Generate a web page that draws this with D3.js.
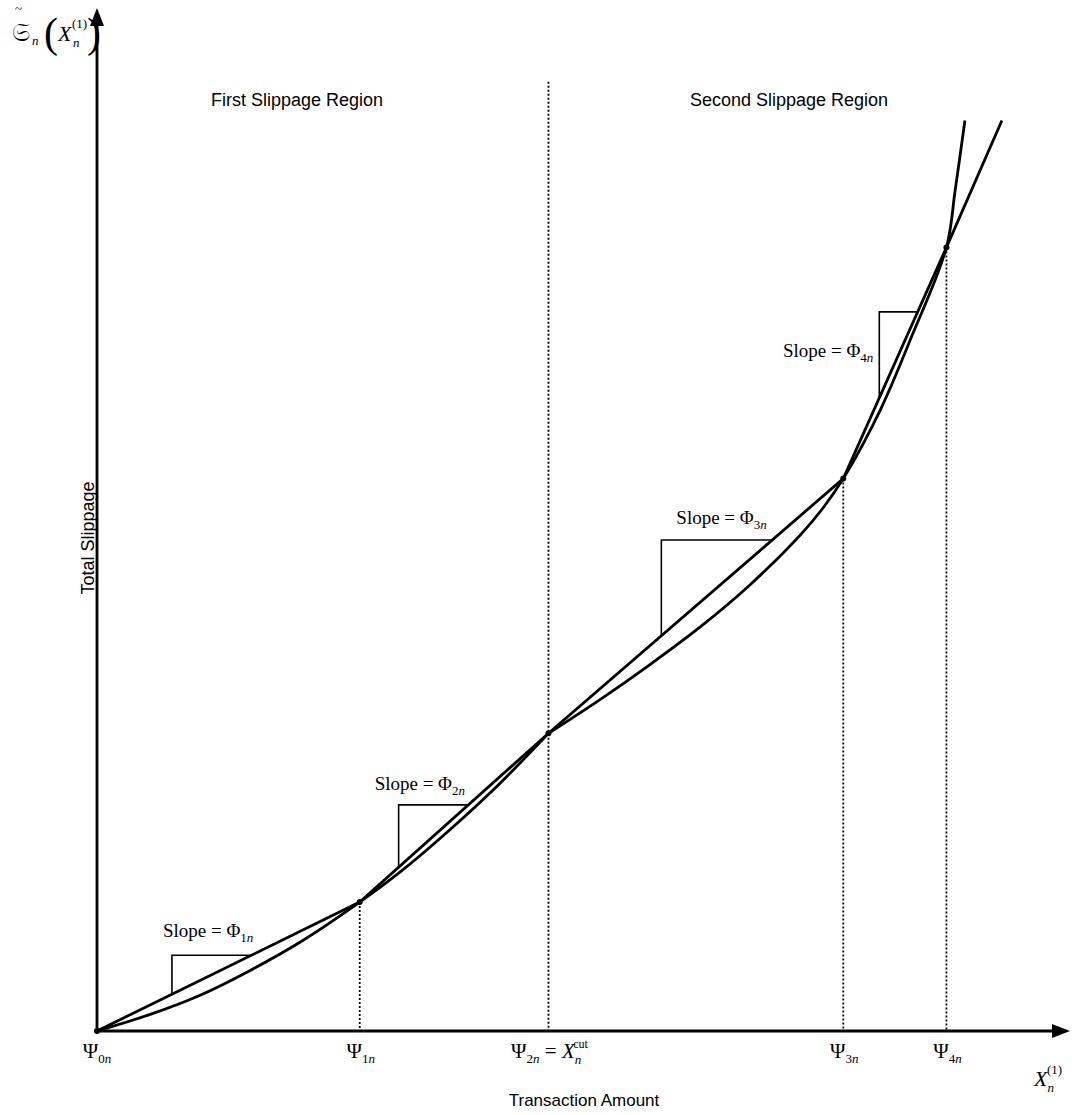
<!DOCTYPE html>
<html lang="en">
<head>
<meta charset="utf-8">
<title>Total Slippage</title>
<script src="https://d3js.org/d3.v7.min.js"></script>
<style>
 body { margin: 0; background: #fff; }
 .sans { font-family: "Liberation Sans", Arial, sans-serif; font-size: 17px; }
 .serif { font-family: "Liberation Serif", "Times New Roman", serif; }
</style>
</head>
<body>
<script>
// knots of the piecewise linear approximation
const knotX = [0, 27.0, 46.4, 76.7, 87.3];
const knotY = [0, 12.6, 29.1, 54.0, 76.6];
const knotSub = ['0', '1', '2', '3', '4'];

// chord line continues past the last knot
const chordX = [0, 27.0, 46.4, 76.7, 87.3, 93.0];
const chordY = [0, 12.6, 29.1, 54.0, 76.6, 89.0];

// true slippage curve, first and second region
const curve1X = [0, 5.4, 10.6, 15.7, 20.9, 27.0, 31.1, 36.3, 41.4, 46.4];
const curve1Y = [0, 1.6, 3.5, 5.9, 8.7, 12.6, 15.5, 19.7, 24.2, 29.1];
const curve2X = [46.4, 51.7, 56.8, 62.0, 67.1, 72.3, 74.6, 76.7, 80.5, 83.6, 87.3, 88.2, 89.2];
const curve2Y = [29.1, 32.4, 35.8, 39.5, 43.6, 48.5, 51.1, 54.0, 60.7, 67.6, 76.6, 82.2, 89.0];

// slope triangles: x of the vertical leg, y of the horizontal leg
const triX = [7.7, 31.0, 58.0, 80.4];
const triTop = [7.4, 22.1, 48.0, 70.3];
const slopeSub = ['1', '2', '3', '4'];

const regions = ['First Slippage Region', 'Second Slippage Region'];
const dividerTop = 92.8;

const width = 1072, height = 1115;

const x = d3.scaleLinear().domain([0, 100]).range([97, 1070]);
const y = d3.scaleLinear().domain([0, 100]).range([1031, 8]);

const svg = d3.select('body').append('svg')
  .attr('width', width)
  .attr('height', height);

svg.append('rect').attr('width', width).attr('height', height).attr('fill', '#fff');

//Dotted verticals
knotX.forEach(function (k, i) {
  if (i === 0) return;
  svg.append('line')
    .attr('x1', x(k)).attr('x2', x(k))
    .attr('y1', i === 2 ? y(dividerTop) : y(knotY[i]))
    .attr('y2', y(0))
    .attr('stroke', '#000')
    .attr('stroke-width', 1.8)
    .attr('stroke-dasharray', '2,2');
});

//Axes
svg.append('line')
  .attr('x1', x(0)).attr('x2', x(100) - 14)
  .attr('y1', y(0)).attr('y2', y(0))
  .attr('stroke', '#000').attr('stroke-width', 2.8);
svg.append('path')
  .attr('d', 'M' + x(100) + ',' + y(0) + 'l-18,-7l0,14z')
  .attr('fill', '#000');
svg.append('line')
  .attr('x1', x(0)).attr('x2', x(0))
  .attr('y1', y(0)).attr('y2', y(100) + 14)
  .attr('stroke', '#000').attr('stroke-width', 2.8);
svg.append('path')
  .attr('d', 'M' + x(0) + ',' + y(100) + 'l-7,18l14,0z')
  .attr('fill', '#000');

//Curves
const line = d3.line().x(d => x(d[0])).y(d => y(d[1]));
const smooth = d3.line().x(d => x(d[0])).y(d => y(d[1])).curve(d3.curveCatmullRom.alpha(0.5));

svg.append('path')
  .attr('d', line(d3.zip(chordX, chordY)))
  .attr('fill', 'none').attr('stroke', '#000').attr('stroke-width', 2.8);
svg.append('path')
  .attr('d', smooth(d3.zip(curve1X, curve1Y)))
  .attr('fill', 'none').attr('stroke', '#000').attr('stroke-width', 2.8);
svg.append('path')
  .attr('d', smooth(d3.zip(curve2X, curve2Y)))
  .attr('fill', 'none').attr('stroke', '#000').attr('stroke-width', 2.8);

//Knot dots
svg.selectAll('.knot')
  .data(d3.zip(knotX, knotY))
  .enter()
  .append('circle')
  .attr('cx', d => x(d[0]))
  .attr('cy', d => y(d[1]))
  .attr('r', 3)
  .attr('fill', '#000');

//Slope triangles
triX.forEach(function (tx, i) {
  const x0 = knotX[i], y0 = knotY[i], x1 = knotX[i + 1], y1 = knotY[i + 1];
  const yStart = y0 + (tx - x0) * (y1 - y0) / (x1 - x0);
  const xEnd = x0 + (triTop[i] - y0) * (x1 - x0) / (y1 - y0);
  svg.append('path')
    .attr('d', 'M' + x(tx) + ',' + y(yStart) + 'L' + x(tx) + ',' + y(triTop[i]) + 'L' + x(xEnd) + ',' + y(triTop[i]))
    .attr('fill', 'none').attr('stroke', '#000').attr('stroke-width', 1.6);
});

//Slope labels (offsets from the triangle corner)
const slopeOffset = [[-9, -18, 'start'], [-24, -15, 'start'], [15, -16, 'start'], [-6, 45, 'end']];
triX.forEach(function (tx, i) {
  const t = svg.append('text')
    .attr('class', 'serif')
    .attr('x', x(tx) + slopeOffset[i][0])
    .attr('y', y(triTop[i]) + slopeOffset[i][1])
    .attr('text-anchor', slopeOffset[i][2])
    .style('font-size', '19px');
  t.append('tspan').text('Slope = Φ');
  const s = t.append('tspan').attr('dy', 5).style('font-size', '13px');
  s.append('tspan').text(slopeSub[i]);
  s.append('tspan').style('font-style', 'italic').text('n');
});

//Knot labels on x axis
knotX.forEach(function (k, i) {
  const t = svg.append('text')
    .attr('class', 'serif')
    .attr('x', x(k) + (i === 0 ? 0 : 1))
    .attr('y', 1058)
    .attr('text-anchor', 'middle')
    .style('font-size', '21px');
  t.append('tspan').text('Ψ');
  const s = t.append('tspan').attr('dy', 5).style('font-size', '13px');
  s.append('tspan').text(knotSub[i]);
  s.append('tspan').style('font-style', 'italic').text('n');
  if (i === 2) {
    t.append('tspan').attr('dy', -5).text(' = ');
    t.append('tspan').style('font-style', 'italic').text('X');
    t.append('tspan').attr('dy', 6).style('font-size', '13px').style('font-style', 'italic').text('n');
    t.append('tspan').attr('dx', -8).attr('dy', -16).style('font-size', '12px').text('cut');
  }
});

//X axis variable
const xv = svg.append('text').attr('class', 'serif').attr('x', 1034).attr('y', 1086).style('font-size', '22px');
xv.append('tspan').style('font-style', 'italic').text('X');
xv.append('tspan').attr('dy', 6).style('font-size', '13px').style('font-style', 'italic').text('n');
xv.append('tspan').attr('dx', -7).attr('dy', -18).style('font-size', '13px').text('(1)');

//Y axis variable
svg.append('text').attr('class', 'serif').attr('x', 12).attr('y', 41).style('font-size', '26px').text('\u{1D516}');
svg.append('text').attr('class', 'serif').attr('x', 15).attr('y', 13).style('font-size', '13px').text('~');
svg.append('text').attr('class', 'serif').attr('x', 32).attr('y', 45).style('font-size', '13px').style('font-style', 'italic').text('n');
svg.append('text').attr('class', 'serif').attr('x', 44).attr('y', 47).style('font-size', '42px').style('font-weight', '300').text('(');
svg.append('text').attr('class', 'serif').attr('x', 58).attr('y', 41).style('font-size', '22px').style('font-style', 'italic').text('X');
svg.append('text').attr('class', 'serif').attr('x', 73).attr('y', 47).style('font-size', '13px').style('font-style', 'italic').text('n');
svg.append('text').attr('class', 'serif').attr('x', 72).attr('y', 28).style('font-size', '13px').text('(1)');
svg.append('text').attr('class', 'serif').attr('x', 87).attr('y', 47).style('font-size', '42px').style('font-weight', '300').text(')');

//Axis titles
svg.append('text').attr('class', 'sans')
  .attr('x', 584).attr('y', 1106)
  .attr('text-anchor', 'middle')
  .text('Transaction Amount');
svg.append('text').attr('class', 'sans')
  .attr('transform', 'translate(94,538) rotate(-90)')
  .attr('text-anchor', 'middle')
  .style('font-size', '18px')
  .text('Total Slippage');

//Region titles
svg.selectAll('.region')
  .data(regions)
  .enter()
  .append('text')
  .attr('class', 'sans')
  .attr('x', (d, i) => i === 0 ? 297 : 789)
  .attr('y', 106)
  .attr('text-anchor', 'middle')
  .style('font-size', '18px')
  .text(d => d);
</script>
</body>
</html>
